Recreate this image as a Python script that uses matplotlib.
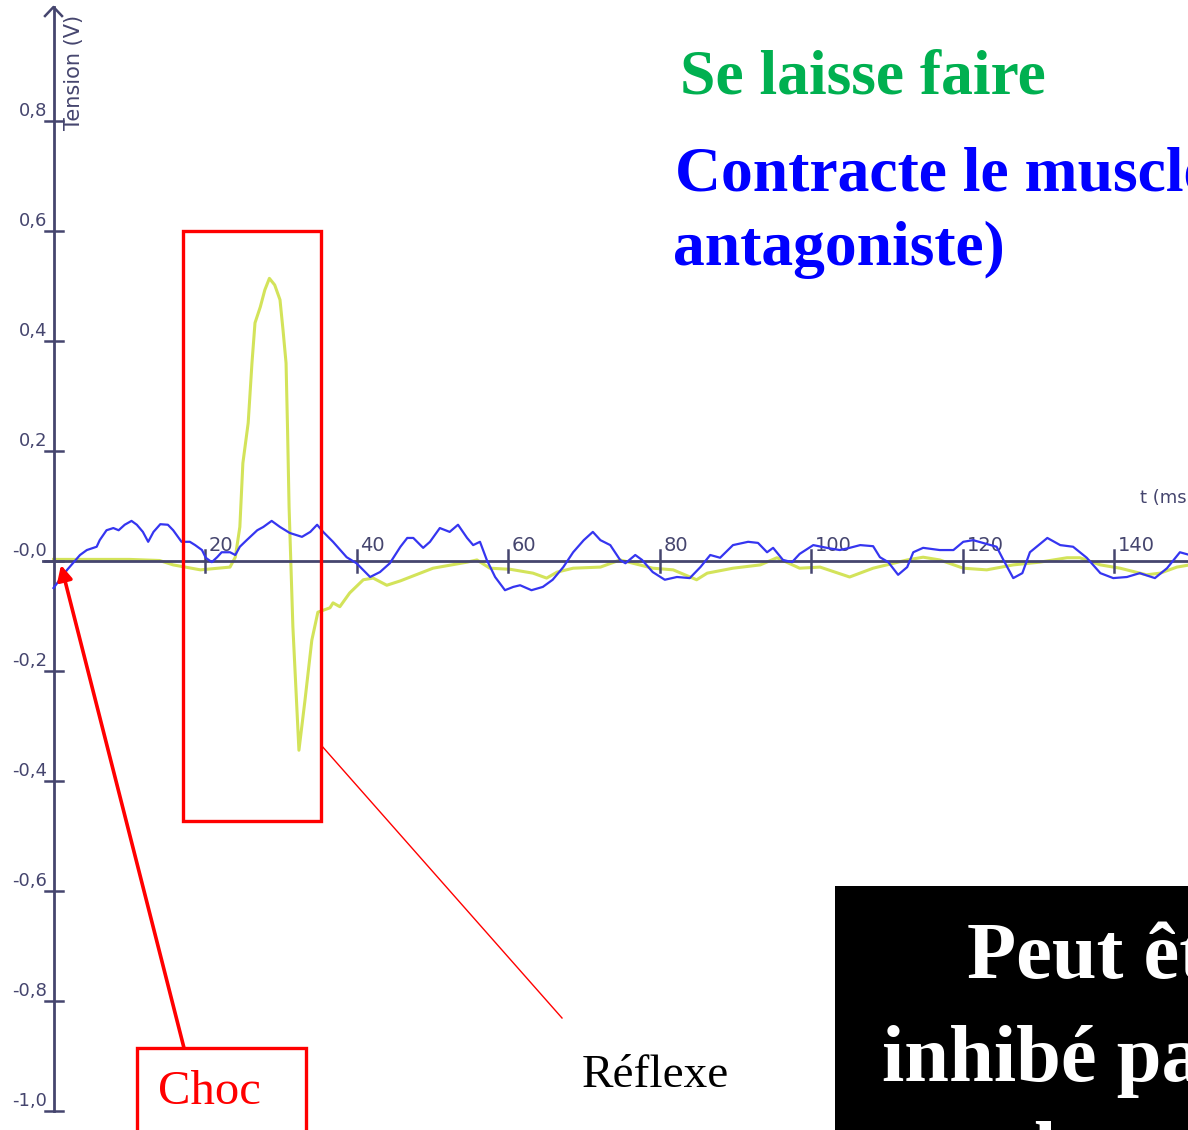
import matplotlib.pyplot as plt
from matplotlib.patches import Rectangle

# signal (t in ms, tension in V)
t_blue = [0, 1.8, 3.5, 4.4, 5.7, 6.1, 7.0, 7.9, 8.6, 9.4, 10.3, 11.0, 11.8, 12.5, 13.2,
          14.1, 15.1, 15.8, 16.9, 18.0, 18.7, 19.6, 20.1, 20.9, 21.6, 22.2, 23.3, 24.0,
          24.6, 25.5, 26.9, 27.7, 28.8, 29.9, 31.2, 32.8, 33.9, 34.8, 35.6, 36.9, 38.7,
          40.0, 41.8, 43.1, 44.4, 45.8, 46.7, 47.5, 48.8, 49.7, 51.0, 52.3, 53.4, 54.6,
          55.4, 56.3, 57.2, 58.3, 59.6, 60.7, 61.6, 63.1, 64.6, 65.9, 67.3, 68.6, 70.0,
          71.2, 72.2, 73.5, 74.8, 75.5, 76.8, 77.7, 79.1, 80.7, 82.3, 84.0, 85.4, 86.7,
          88.0, 89.7, 91.7, 93.0, 94.2, 95.0, 96.3, 97.5, 98.5, 100.3, 102.1, 103.8,
          105.1, 106.5, 108.2, 109.1, 110.2, 111.5, 112.7, 113.5, 114.8, 117.0, 118.8,
          120.1, 121.4, 124.5, 125.4, 126.7, 127.9, 128.9, 131.2, 132.9, 134.6, 136.4,
          138.2, 139.9, 141.7, 143.4, 145.4, 147.0, 148.7, 150.0]
v_blue = [-0.05, -0.017, 0.01, 0.019, 0.025, 0.037, 0.055, 0.059, 0.055, 0.065, 0.072,
          0.065, 0.052, 0.034, 0.052, 0.066, 0.065, 0.055, 0.034, 0.034, 0.028, 0.019,
          0.005, -0.003, 0.006, 0.015, 0.015, 0.01, 0.025, 0.037, 0.055, 0.061, 0.072,
          0.061, 0.05, 0.043, 0.052, 0.065, 0.052, 0.034, 0.006, -0.005, -0.03, -0.021,
          -0.005, 0.025, 0.041, 0.041, 0.023, 0.034, 0.059, 0.052, 0.065, 0.041, 0.028,
          0.034, 0.001, -0.03, -0.054, -0.048, -0.045, -0.054, -0.048, -0.035, -0.012,
          0.015, 0.037, 0.052, 0.037, 0.028, 0.001, -0.005, 0.01, 0.001, -0.021, -0.035,
          -0.03, -0.032, -0.012, 0.01, 0.005, 0.028, 0.034, 0.032, 0.015, 0.023, 0.001,
          -0.003, 0.012, 0.028, 0.023, 0.019, 0.023, 0.028, 0.026, 0.006, -0.003, -0.026,
          -0.012, 0.015, 0.023, 0.019, 0.019, 0.034, 0.037, 0.025, 0.001, -0.032, -0.023,
          0.015, 0.041, 0.028, 0.025, 0.005, -0.023, -0.032, -0.03, -0.023, -0.032,
          -0.014, 0.015, 0.01]

t_yellow = [0, 5, 10, 14, 15.8, 19.4, 23.3, 24.0, 24.6, 25.0, 25.7, 26.2, 26.6, 27.3,
            27.9, 28.5, 29.2, 29.9, 30.3, 30.7, 30.9, 31.1, 31.6, 32.4, 33.2, 34.1, 34.9,
            36.5, 36.9, 37.8, 39.1, 40.9, 42.2, 44.0, 45.8, 50.1, 54.6, 55.9, 57.6, 60.3,
            63.3, 65.1, 66.5, 68.6, 72.2, 74.8, 76.5, 79.1, 81.8, 84.9, 86.3, 89.7, 93.3,
            95.5, 98.5, 101.2, 105.1, 108.2, 110.0, 112.7, 114.8, 117.0, 120.1, 123.2,
            126.7, 130.2, 133.8, 135.5, 138.2, 140.8, 144.3, 146.1, 148.3, 150.0]
v_yellow = [0.002, 0.002, 0.002, 0.0, -0.008, -0.017, -0.012, 0.006, 0.061, 0.177, 0.25,
            0.359, 0.432, 0.461, 0.492, 0.513, 0.501, 0.474, 0.419, 0.359, 0.237, 0.097,
            -0.12, -0.345, -0.254, -0.145, -0.094, -0.086, -0.077, -0.084, -0.059, -0.035,
            -0.032, -0.045, -0.037, -0.014, -0.003, 0.001, -0.014, -0.016, -0.023, -0.032,
            -0.021, -0.014, -0.012, 0.001, -0.005, -0.014, -0.017, -0.035, -0.023, -0.014,
            -0.008, 0.005, -0.014, -0.012, -0.03, -0.014, -0.008, 0.001, 0.006, 0.001,
            -0.014, -0.017, -0.008, -0.003, 0.005, 0.005, -0.008, -0.014, -0.026, -0.023,
            -0.012, -0.008]

y_ticks = [0.8, 0.6, 0.4, 0.2, 0.0, -0.2, -0.4, -0.6, -0.8, -1.0]
y_labels = ["0,8", "0,6", "0,4", "0,2", "-0,0", "-0,2", "-0,4", "-0,6", "-0,8", "-1,0"]
x_ticks = [20, 40, 60, 80, 100, 120, 140]

# pixel <-> data mapping of the screenshot
X0, PX_MS = 53.5, 7.575
Y0, PX_V = 560.5, 550.0


def tx(px):
    return (px - X0) / PX_MS


def ty(py):
    return (Y0 - py) / PX_V


axis_col = "#45456e"
blue = "#3535f0"
yellow = "#d3e35a"

fig = plt.figure(figsize=(11.88, 11.30), dpi=100)
ax = fig.add_axes([0, 0, 1, 1])
ax.set_xlim(tx(0), tx(1188))
ax.set_ylim(ty(1130), ty(0))
ax.axis("off")

# traces
ax.plot(t_yellow, v_yellow, color=yellow, lw=2.2, zorder=2)
ax.plot(t_blue, v_blue, color=blue, lw=1.6, zorder=4)

# axes drawn by hand like the acquisition software
ax.plot([tx(43), tx(1188)], [0, 0], color=axis_col, lw=2, zorder=3)
ax.plot([0, 0], [-1.0, ty(7)], color=axis_col, lw=2, zorder=3)
ax.plot([tx(45), 0, tx(62)], [ty(16), ty(7), ty(16)], color=axis_col, lw=1.8, zorder=3)

dx = 9 / PX_MS
for v, lab in zip(y_ticks, y_labels):
    ax.plot([-dx, dx], [v, v], color=axis_col, lw=1.8, zorder=3)
    ax.text(tx(47), v + 5 / PX_V, lab, ha="right", va="baseline", fontsize=13,
            color=axis_col, family="DejaVu Sans")

dy = 11 / PX_V
for t in x_ticks:
    ax.plot([t, t], [-dy, dy], color=axis_col, lw=1.8, zorder=3)
    ax.text(t + 4 / PX_MS, 10 / PX_V, str(t), ha="left", va="baseline", fontsize=14,
            color=axis_col, family="DejaVu Sans")

ax.text(tx(1140), ty(503), "t (ms)", ha="left", va="baseline", fontsize=13,
        color=axis_col, family="DejaVu Sans")
ax.text(tx(74), ty(130), "Tension (V)", rotation=90, ha="center", va="bottom",
        fontsize=15, color=axis_col, family="DejaVu Sans")

# annotations of the slide
ax.add_patch(Rectangle((tx(183), ty(821)), tx(321) - tx(183), ty(231) - ty(821),
                       fill=False, ec="red", lw=2.4, zorder=6))
ax.add_patch(Rectangle((tx(137), ty(1140)), tx(306) - tx(137), ty(1048) - ty(1140),
                       fill=False, ec="red", lw=2.4, zorder=6))
ax.text(tx(158), ty(1104), "Choc", color="red", fontsize=35, family="Liberation Serif",
        ha="left", va="baseline", zorder=7)
ax.annotate("", xy=(tx(61), ty(565)), xytext=(tx(184), ty(1048)),
            arrowprops=dict(arrowstyle="-|>", color="red", lw=2.6, mutation_scale=22,
                            shrinkA=0, shrinkB=0), zorder=7)
ax.plot([tx(321), tx(562)], [ty(745), ty(1018)], color="red", lw=1.0, zorder=6)
ax.text(tx(582), ty(1087), "Réflexe", color="black", fontsize=34,
        family="Liberation Serif", ha="left", va="baseline")

ax.text(tx(680), ty(93), "Se laisse faire", color="#00b050", fontsize=45.8,
        family="Liberation Serif", weight="bold", ha="left", va="baseline")
ax.text(tx(675), ty(190), "Contracte le muscle (muscle", color="#0000ff", fontsize=45.8,
        family="Liberation Serif", weight="bold", ha="left", va="baseline")
ax.text(tx(673), ty(265), "antagoniste)", color="#0000ff", fontsize=45.8,
        family="Liberation Serif", weight="bold", ha="left", va="baseline")

ax.add_patch(Rectangle((tx(835), ty(1200)), tx(1300) - tx(835), ty(886) - ty(1200),
                       fc="black", ec="none", zorder=8))
ax.text(tx(967), ty(978), "Peut être", color="white", fontsize=58,
        family="Liberation Serif", weight="bold", ha="left", va="baseline", zorder=9)
ax.text(tx(882), ty(1081), "inhibé par", color="white", fontsize=58,
        family="Liberation Serif", weight="bold", ha="left", va="baseline", zorder=9)
ax.text(tx(1034), ty(1177), "le muscle", color="white", fontsize=58,
        family="Liberation Serif", weight="bold", ha="left", va="baseline", zorder=9)

fig.savefig("out.png", dpi=100)
